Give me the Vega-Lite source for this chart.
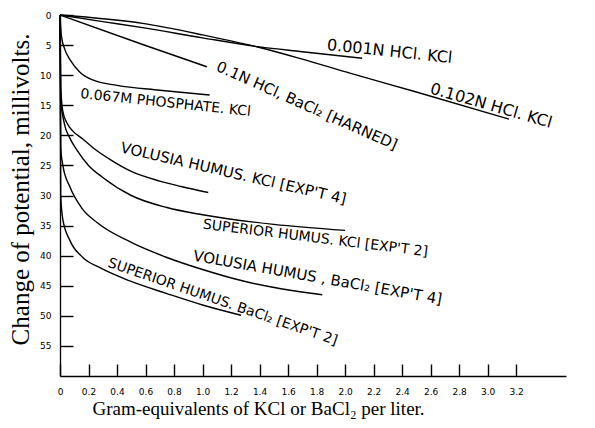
{
  "$schema": "https://vega.github.io/schema/vega-lite/v6.json",
  "width": 506,
  "height": 361,
  "autosize": {"type": "none"},
  "padding": {"left": 60, "top": 15, "right": 29, "bottom": 52},
  "background": "white",
  "config": {"view": {"stroke": null}},
  "datasets": {
    "curves": [
      {"series": "0.001N", "x": 0, "y": 0},
      {"series": "0.001N", "x": 0.3, "y": 1.1},
      {"series": "0.001N", "x": 0.58, "y": 2.1},
      {"series": "0.001N", "x": 1.0, "y": 3.8},
      {"series": "0.001N", "x": 1.4, "y": 5.3},
      {"series": "0.001N", "x": 1.7, "y": 6.1},
      {"series": "0.001N", "x": 2.12, "y": 7.2},
      {"series": "0.102N", "x": 0, "y": 0},
      {"series": "0.102N", "x": 0.58, "y": 1.4},
      {"series": "0.102N", "x": 1.0, "y": 3.3},
      {"series": "0.102N", "x": 1.4, "y": 5.4},
      {"series": "0.102N", "x": 1.68, "y": 7.2},
      {"series": "0.102N", "x": 2.04, "y": 9.7},
      {"series": "0.102N", "x": 2.5, "y": 12.8},
      {"series": "0.102N", "x": 3.15, "y": 17.3},
      {"series": "0.1N", "x": 0, "y": 0},
      {"series": "0.1N", "x": 0.58, "y": 4.9},
      {"series": "0.1N", "x": 1.03, "y": 8.6},
      {"series": "phosphate", "x": 0, "y": 0},
      {"series": "phosphate", "x": 0.01, "y": 3.5},
      {"series": "phosphate", "x": 0.035, "y": 5.8},
      {"series": "phosphate", "x": 0.07, "y": 7.4},
      {"series": "phosphate", "x": 0.14, "y": 9.5},
      {"series": "phosphate", "x": 0.23, "y": 10.8},
      {"series": "phosphate", "x": 0.4, "y": 11.7},
      {"series": "phosphate", "x": 0.7, "y": 12.5},
      {"series": "phosphate", "x": 1.05, "y": 13.3},
      {"series": "volusiaKCl", "x": 0, "y": 0},
      {"series": "volusiaKCl", "x": 0.005, "y": 12},
      {"series": "volusiaKCl", "x": 0.02, "y": 16},
      {"series": "volusiaKCl", "x": 0.05, "y": 18},
      {"series": "volusiaKCl", "x": 0.09, "y": 19.3},
      {"series": "volusiaKCl", "x": 0.16, "y": 20.6},
      {"series": "volusiaKCl", "x": 0.25, "y": 22.4},
      {"series": "volusiaKCl", "x": 0.35, "y": 24},
      {"series": "volusiaKCl", "x": 0.5, "y": 26},
      {"series": "volusiaKCl", "x": 0.7, "y": 27.6},
      {"series": "volusiaKCl", "x": 0.85, "y": 28.5},
      {"series": "volusiaKCl", "x": 1.04, "y": 29.5},
      {"series": "superiorKCl", "x": 0, "y": 0},
      {"series": "superiorKCl", "x": 0.005, "y": 14},
      {"series": "superiorKCl", "x": 0.03, "y": 18},
      {"series": "superiorKCl", "x": 0.07, "y": 20.5},
      {"series": "superiorKCl", "x": 0.12, "y": 22.5},
      {"series": "superiorKCl", "x": 0.2, "y": 25},
      {"series": "superiorKCl", "x": 0.3, "y": 27},
      {"series": "superiorKCl", "x": 0.5, "y": 30},
      {"series": "superiorKCl", "x": 0.75, "y": 32},
      {"series": "superiorKCl", "x": 1.0, "y": 33.2},
      {"series": "superiorKCl", "x": 1.5, "y": 34.8},
      {"series": "superiorKCl", "x": 2.0, "y": 35.8},
      {"series": "volusiaBaCl2", "x": 0, "y": 0},
      {"series": "volusiaBaCl2", "x": 0.005, "y": 22},
      {"series": "volusiaBaCl2", "x": 0.02, "y": 25},
      {"series": "volusiaBaCl2", "x": 0.07, "y": 28.6},
      {"series": "volusiaBaCl2", "x": 0.15, "y": 32},
      {"series": "volusiaBaCl2", "x": 0.26, "y": 34.5},
      {"series": "volusiaBaCl2", "x": 0.5, "y": 37.8},
      {"series": "volusiaBaCl2", "x": 0.75, "y": 40.3},
      {"series": "volusiaBaCl2", "x": 1.0, "y": 42.3},
      {"series": "volusiaBaCl2", "x": 1.3, "y": 44.3},
      {"series": "volusiaBaCl2", "x": 1.55, "y": 45.5},
      {"series": "volusiaBaCl2", "x": 1.84, "y": 46.5},
      {"series": "superiorBaCl2", "x": 0, "y": 0},
      {"series": "superiorBaCl2", "x": 0.005, "y": 30},
      {"series": "superiorBaCl2", "x": 0.02, "y": 34},
      {"series": "superiorBaCl2", "x": 0.07, "y": 37.5},
      {"series": "superiorBaCl2", "x": 0.16, "y": 40.3},
      {"series": "superiorBaCl2", "x": 0.28, "y": 42},
      {"series": "superiorBaCl2", "x": 0.49, "y": 44.2},
      {"series": "superiorBaCl2", "x": 0.75, "y": 46.3},
      {"series": "superiorBaCl2", "x": 1.0, "y": 48.2},
      {"series": "superiorBaCl2", "x": 1.27, "y": 49.9}
    ],
    "labels": [
      {"id": "a", "label": "0.001N  HCl. KCl", "x": 1.87, "y": 5.8},
      {"id": "b", "label": "0.1N  HCl,  BaCl₂   [HARNED]", "x": 1.09, "y": 9.2},
      {"id": "c", "label": "0.102N  HCl. KCl", "x": 2.59, "y": 13.0},
      {"id": "d", "label": "0.067M PHOSPHATE. KCl", "x": 0.14, "y": 13.8},
      {"id": "e", "label": "VOLUSIA HUMUS. KCl [EXP'T 4]", "x": 0.42, "y": 22.8},
      {"id": "f", "label": "SUPERIOR HUMUS. KCl [EXP'T 2]", "x": 1.0, "y": 35.5},
      {"id": "g", "label": "VOLUSIA HUMUS , BaCl₂ [EXP'T 4]", "x": 0.93, "y": 40.8},
      {"id": "h", "label": "SUPERIOR HUMUS. BaCl₂ [EXP'T 2]", "x": 0.33, "y": 41.8}
    ]
  },
  "encoding": {
    "x": {
      "field": "x", "type": "quantitative",
      "scale": {"domain": [0, 3.55], "nice": false, "zero": false},
      "axis": {
        "values": [0, 0.2, 0.4, 0.6, 0.8, 1.0, 1.2, 1.4, 1.6, 1.8, 2.0, 2.2, 2.4, 2.6, 2.8, 3.0, 3.2],
        "labelExpr": "datum.value == 0 ? '0' : format(datum.value, '.1f')",
        "grid": false,
        "domainColor": "black", "domainWidth": 1.3,
        "ticks": true, "tickColor": "black", "tickWidth": 1.4, "tickSize": -12,
        "labelPadding": 23, "labelFont": "DejaVu Sans", "labelFontSize": 9, "labelColor": "black",
        "labelFlush": false, "labelOverlap": false,
        "title": "Gram-equivalents of KCl or BaCl₂ per liter.",
        "titleFont": "Liberation Serif", "titleFontSize": 19, "titleFontWeight": "normal", "titleColor": "black",
        "titleX": 198, "titleY": 38, "titleBaseline": "alphabetic", "titleAlign": "center"
      }
    },
    "y": {
      "field": "y", "type": "quantitative",
      "scale": {"domain": [0, 60], "reverse": true, "nice": false, "zero": false},
      "axis": {
        "values": [0, 5, 10, 15, 20, 25, 30, 35, 40, 45, 50, 55],
        "grid": false,
        "domainColor": "black", "domainWidth": 1.3,
        "ticks": true, "tickColor": "black", "tickWidth": 1.4, "tickSize": -13,
        "labelPadding": 22, "labelFont": "DejaVu Sans", "labelFontSize": 9, "labelColor": "black",
        "labelFlush": false, "labelOverlap": false,
        "title": "Change of potential, millivolts.",
        "titleFont": "Liberation Serif", "titleFontSize": 25, "titleFontWeight": "normal", "titleColor": "black",
        "titleAngle": -90, "titleX": -40, "titleY": 174, "titleBaseline": "middle", "titleAlign": "center"
      }
    }
  },
  "layer": [
    {
      "data": {"name": "curves"},
      "mark": {"type": "line", "color": "black", "strokeWidth": 1.4, "interpolate": "monotone"},
      "encoding": {"detail": {"field": "series"}}
    },
    {
      "data": {"name": "labels"}, "transform": [{"filter": "datum.id == 'a'"}],
      "mark": {"type": "text", "angle": 6, "align": "left", "baseline": "alphabetic", "font": "DejaVu Sans", "fontSize": 16, "color": "black"},
      "encoding": {"text": {"field": "label"}}
    },
    {
      "data": {"name": "labels"}, "transform": [{"filter": "datum.id == 'b'"}],
      "mark": {"type": "text", "angle": 24, "align": "left", "baseline": "alphabetic", "font": "DejaVu Sans", "fontSize": 15, "color": "black"},
      "encoding": {"text": {"field": "label"}}
    },
    {
      "data": {"name": "labels"}, "transform": [{"filter": "datum.id == 'c'"}],
      "mark": {"type": "text", "angle": 16, "align": "left", "baseline": "alphabetic", "font": "DejaVu Sans", "fontSize": 16, "color": "black"},
      "encoding": {"text": {"field": "label"}}
    },
    {
      "data": {"name": "labels"}, "transform": [{"filter": "datum.id == 'd'"}],
      "mark": {"type": "text", "angle": 6, "align": "left", "baseline": "alphabetic", "font": "DejaVu Sans", "fontSize": 14, "color": "black"},
      "encoding": {"text": {"field": "label"}}
    },
    {
      "data": {"name": "labels"}, "transform": [{"filter": "datum.id == 'e'"}],
      "mark": {"type": "text", "angle": 13, "align": "left", "baseline": "alphabetic", "font": "DejaVu Sans", "fontSize": 15, "color": "black"},
      "encoding": {"text": {"field": "label"}}
    },
    {
      "data": {"name": "labels"}, "transform": [{"filter": "datum.id == 'f'"}],
      "mark": {"type": "text", "angle": 7, "align": "left", "baseline": "alphabetic", "font": "DejaVu Sans", "fontSize": 14, "color": "black"},
      "encoding": {"text": {"field": "label"}}
    },
    {
      "data": {"name": "labels"}, "transform": [{"filter": "datum.id == 'g'"}],
      "mark": {"type": "text", "angle": 10, "align": "left", "baseline": "alphabetic", "font": "DejaVu Sans", "fontSize": 15, "color": "black"},
      "encoding": {"text": {"field": "label"}}
    },
    {
      "data": {"name": "labels"}, "transform": [{"filter": "datum.id == 'h'"}],
      "mark": {"type": "text", "angle": 19, "align": "left", "baseline": "alphabetic", "font": "DejaVu Sans", "fontSize": 14, "color": "black"},
      "encoding": {"text": {"field": "label"}}
    }
  ]
}
